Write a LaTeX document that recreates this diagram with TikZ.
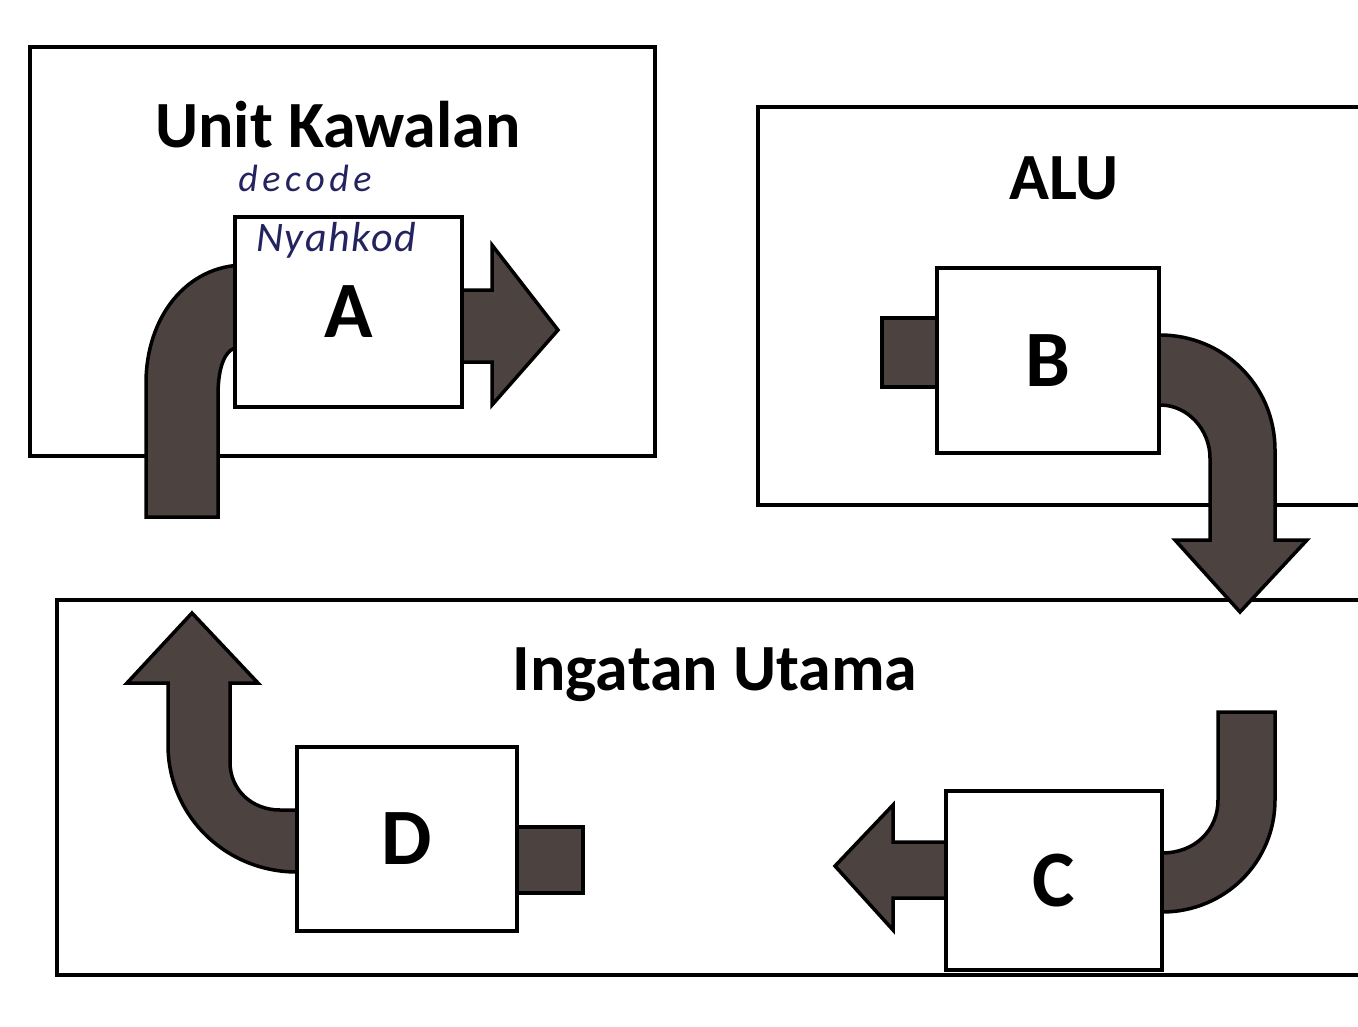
\documentclass[tikz,border=0pt]{standalone}
\usepackage{fontspec}
\setmainfont{Carlito}
\definecolor{arrowfill}{RGB}{76,66,63}
\definecolor{ink}{RGB}{35,35,95}
\begin{document}
\begin{tikzpicture}[x=1pt,y=-1pt,
  panel/.style={draw=black,line width=3.5pt,fill=white,inner sep=0pt},
  unitbox/.style={draw=black,line width=3.5pt,fill=white,inner sep=0pt,
    font=\fontsize{80}{90}\selectfont\bfseries},
  blockarrow/.style={draw=black,line width=3.5pt,fill=arrowfill,line join=miter},
  titletext/.style={font=\fontsize{66}{74}\selectfont\bfseries,inner sep=0pt},
  handtext/.style={text=ink,inner sep=0pt}]
\useasboundingbox (0,0) rectangle (1358,1026);
\clip (0,0) rectangle (1358,1026);
\fill[white] (0,0) rectangle (1358,1026);
% panels
\node[panel,minimum width=625pt,minimum height=409pt] (uk) at (342.5,251.5) {};
\node[panel,minimum width=642pt,minimum height=398pt] (alu) at (1079,306) {};
\node[panel,minimum width=1343pt,minimum height=375pt] (mem) at (728.5,787.5) {};
% titles
\node[titletext] (tuk) at (338,125) {Unit Kawalan};
\node[titletext] (talu) at (1064,178) {ALU};
\node[titletext] (tmem) at (715,675) {Ingatan Utama};
% handwritten note above box A
\node[handtext,font=\fontsize{38}{42}\selectfont\itshape\addfontfeature{LetterSpace=12}] (dec) at (305,178) {decode};
% arrows of A
\draw[blockarrow] (455,290) -- (492,290) -- (492,245) -- (558,330) -- (492,405) -- (492,362) -- (455,362) -- cycle;
\draw[blockarrow] (146,517) -- (146,383) .. controls (146,318) and (186,265) .. (245,265) -- (245,347) -- (240,347)
  .. controls (226,347) and (218,365) .. (218,395) -- (218,517) -- cycle;
% arrows of B
\draw[blockarrow] (882,318) rectangle (945,387);
\draw[blockarrow] (1150,335) -- (1160,335) .. controls (1223,335) and (1275,385) .. (1275,450) -- (1275,540)
  -- (1307,540) -- (1240,612) -- (1175,540) -- (1210,540) -- (1210,458)
  .. controls (1210,430) and (1188,405) .. (1160,405) -- (1150,405) -- cycle;
% arrows of C
\draw[blockarrow] (955,842) -- (893,842) -- (893,805) -- (835,866) -- (893,930) -- (893,898) -- (955,898) -- cycle;
\draw[blockarrow] (1155,853) -- (1162,853) .. controls (1195,853) and (1218,830) .. (1218,800) -- (1218,712)
  -- (1275,712) -- (1275,800) .. controls (1275,862) and (1225,912) .. (1162,912) -- (1155,912) -- cycle;
% arrows of D
\draw[blockarrow] (510,827) rectangle (583,893);
\draw[blockarrow] (305,810) -- (280,810) .. controls (252,810) and (230,790) .. (230,762) -- (230,683)
  -- (258,683) -- (192,613) -- (127,683) -- (168,683) -- (168,745)
  .. controls (168,815) and (225,872) .. (297,872) -- (305,872) -- cycle;
% unit boxes
\node[unitbox,minimum width=227pt,minimum height=190pt] (A) at (348.5,312) {A};
\node[unitbox,minimum width=222pt,minimum height=185pt] (B) at (1048,360.5) {B};
\node[unitbox,minimum width=216pt,minimum height=179pt] (C) at (1054,880.5) {C};
\node[unitbox,minimum width=220pt,minimum height=184pt] (D) at (407,839) {D};
% handwritten note inside box A
\node[handtext,font=\fontsize{42}{46}\selectfont\itshape\addfontfeature{LetterSpace=4}] (nyk) at (336,240) {Nyahkod};
\end{tikzpicture}
\end{document}
